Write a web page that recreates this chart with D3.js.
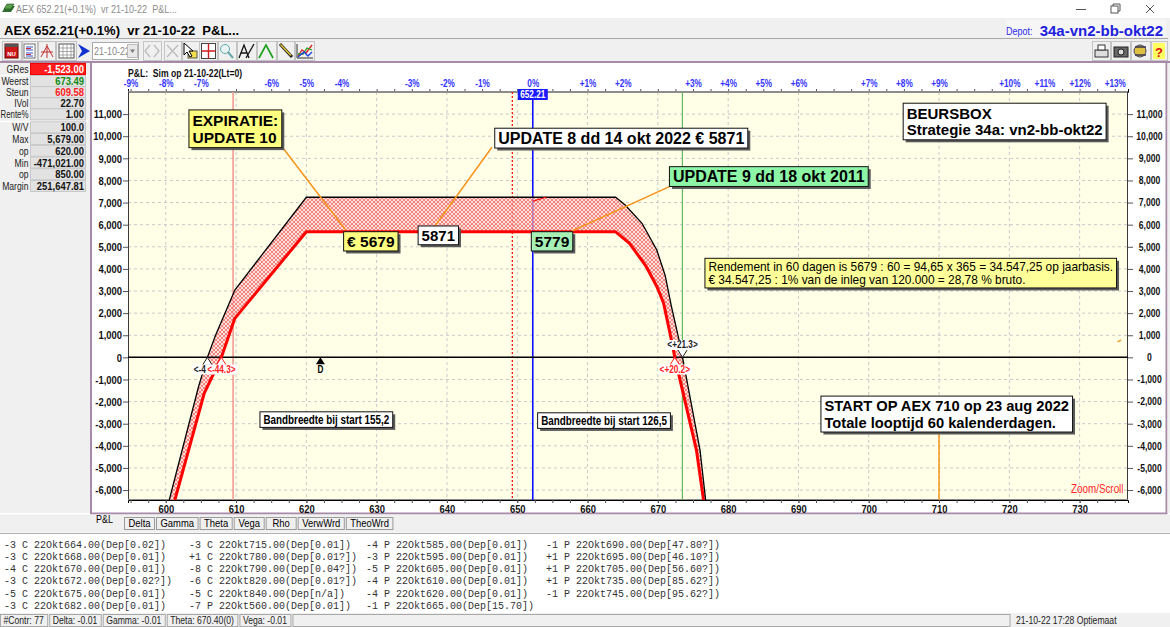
<!DOCTYPE html>
<html>
<head>
<meta charset="utf-8">
<title>AEX 652.21 P&amp;L</title>
<script src="https://cdn.jsdelivr.net/npm/d3@7/dist/d3.min.js"></script>
<style>
  html, body { margin: 0; padding: 0; background: #fff; overflow: hidden; }
  text { font-family: "Liberation Sans", Arial, sans-serif; white-space: pre; }
  text.nar { font-family: "Liberation Sans Narrow", "Arial Narrow", "Liberation Sans", sans-serif; }
  text.mono { font-family: "Liberation Mono", "Courier New", monospace; }
</style>
</head>
<body>
<div id="chart"></div>
<script>
// ---- values ----
const aex = 652.21;
const steun = 609.58;      // support, pink line
const weerst = 673.49;     // resistance, green line
const markLine = 649.3;    // red dotted line
const startLevel = 710;    // START OP AEX 710
const deltaMarkX = 622;    // "D" marker

// P&L today (black) and at expiration (red)
const todayX = [600.5, 604.66, 605.92, 607.1, 609.83, 620, 664, 665.35, 667.75, 669.85, 671.05, 671.9, 672.9, 673.51, 676.0, 676.8];
const todayY = [-6450, -1330, 0, 1009, 3045, 7240, 7240, 6891, 6063, 4855, 3700, 2350, 950, 0, -4195, -6450];
const expiryX = [601.3, 605.47, 607.91, 609.83, 620, 664, 665.97, 668.36, 669.87, 670.81, 672.13, 672.41, 675.49, 676.5];
const expiryY = [-6450, -1629, 0, 1765, 5679, 5679, 5158, 4100, 3195, 2457, 480, 0, -4195, -6450];

// break-even markers (the first label is mostly hidden behind the second one)
const beX = [605.92, 607.91, 673.51, 672.41];
const beText = ["<-4", "<-44.3>", "<+21.3>", "<+20.2>"];
const beSeries = ["today", "expiry", "today", "expiry"];

// axes
const xDomain = [594.63, 736.88];
const yDomain = [-6450, 12000];
const xTicks = [600, 610, 620, 630, 640, 650, 660, 670, 680, 690, 700, 710, 720, 730];
const yTicks = [-6000, -5000, -4000, -3000, -2000, -1000, 0, 1000, 2000, 3000, 4000, 5000, 6000, 7000, 8000, 9000, 10000, 11000];
const pctLabels = ["-9%", "-8%", "-7%", "-6%", "-5%", "-4%", "-3%", "-2%", "-1%", "0%", "+1%", "+2%", "+3%", "+4%", "+5%", "+6%", "+7%", "+8%", "+9%", "+10%", "+11%", "+12%", "+13%"];
const pctAt = [595, 600, 605, 615, 620, 625, 635, 640, 645, 652.21, 660, 665, 675, 680, 685, 690, 700, 705, 710, 720, 725, 730, 735];

// left info panel
const panelLabels = ["GRes", "Weerst", "Steun", "IVol", "Rente%", "W/V", "Max", "op", "Min", "op", "Margin"];
const panelValues = ["-1,523.00", "673.49", "609.58", "22.70", "1.00", "100.0", "5,679.00", "620.00", "-471,021.00", "850.00", "251,647.81"];

// annotations (anchor = top-left corner in chart units)
const noteLines = [
    ["EXPIRATIE:", "UPDATE 10"],
    ["€ 5679"],
    ["5871"],
    ["UPDATE 8 dd 14 okt 2022 € 5871"],
    ["UPDATE 9 dd 18 okt 2011"],
    ["5779"],
    ["BEURSBOX", "Strategie 34a: vn2-bb-okt22"],
    ["Rendement in 60 dagen is 5679 : 60 = 94,65 x 365 = 34.547,25 op jaarbasis.", "€ 34.547,25 : 1% van de inleg van 120.000 = 28,78 % bruto."],
    ["START OP AEX 710 op 23 aug 2022", "Totale looptijd 60 kalenderdagen."],
    ["Bandbreedte bij start 155,2"],
    ["Bandbreedte bij start 126,5"]
];
const noteX = [603.3, 625.3, 635.9, 646.8, 671.65, 652.0, 704.9, 676.7, 693.2, 613.4, 652.9];
const noteY = [11190, 5683, 5941, 10362, 8624, 5683, 11493, 4480, -1751, -2462, -2507];
// orange leader lines: [x1, y1, x2, y2]
const leaders = [
    [616.7, 9457, 625.6, 5760],
    [638.3, 5941, 646.4, 9502],
    [671.65, 7720, 657.8, 5715],
    [710, -3425, 710, -6450],
    [735.4, 700, 735.9, 780]
];

// option listing (4 columns) and tabs
const listCols = [
    ["-3 C 22Okt664.00(Dep[0.02])", "-3 C 22Okt668.00(Dep[0.01])", "-4 C 22Okt670.00(Dep[0.01])", "-3 C 22Okt672.00(Dep[0.02?])", "-5 C 22Okt675.00(Dep[0.01])", "-3 C 22Okt682.00(Dep[0.01])"],
    ["-3 C 22Okt715.00(Dep[0.01])", "+1 C 22Okt780.00(Dep[0.01?])", "-8 C 22Okt790.00(Dep[0.04?])", "-6 C 22Okt820.00(Dep[0.01?])", "-5 C 22Okt840.00(Dep[n/a])", "-7 P 22Okt560.00(Dep[0.01])"],
    ["-4 P 22Okt585.00(Dep[0.01])", "-3 P 22Okt595.00(Dep[0.01])", "-5 P 22Okt605.00(Dep[0.01])", "-4 P 22Okt610.00(Dep[0.01])", "-4 P 22Okt620.00(Dep[0.01])", "-1 P 22Okt665.00(Dep[15.70])"],
    ["-1 P 22Okt690.00(Dep[47.80?])", "+1 P 22Okt695.00(Dep[46.10?])", "+1 P 22Okt705.00(Dep[56.60?])", "+1 P 22Okt735.00(Dep[85.62?])", "-1 P 22Okt745.00(Dep[95.62?])"]
];
const tabNames = ["P&L", "Delta", "Gamma", "Theta", "Vega", "Rho", "VerwWrd", "TheoWrd"];
const statusItems = ["#Contr: 77", "Delta: -0.01", "Gamma: -0.01", "Theta: 670.40(0)", "Vega: -0.01"];
const titleText = "AEX 652.21(+0.1%)  vr 21-10-22  P&L...";

// ---- drawing ----
const W = 1170, H = 627;
const plot = { left: 128, right: 1128, top: 92, bottom: 500 };

const svg = d3.select("#chart").append("svg")
    .attr("width", W).attr("height", H)
    .attr("viewBox", [0, 0, W, H]);

const x = d3.scaleLinear().domain(xDomain).range([plot.left, plot.right]);
const y = d3.scaleLinear().domain(yDomain).range([plot.bottom, plot.top]);
const fmt = d3.formatLocale({ decimal: ".", thousands: ",", grouping: [3], currency: ["", ""], minus: "-" }).format(",");

// narrow font may be missing: squeeze regular glyphs instead
const narrowOK = (() => {
    const t = svg.append("text").attr("class", "nar").style("font-size", "100px").text("00000");
    const w = t.node().getComputedTextLength();
    t.remove();
    return w < 250;
})();
function squeeze(node) {
    const w = node.getComputedTextLength();
    if (narrowOK) { node.__w = w; return w; }
    node.setAttribute("textLength", (w * 0.82).toFixed(2));
    node.setAttribute("lengthAdjust", "spacingAndGlyphs");
    node.__w = w * 0.82;
    return node.__w;
}
const textW = node => node.__w || node.getComputedTextLength();

const defs = svg.append("defs");
defs.append("clipPath").attr("id", "plotClip").append("rect")
    .attr("x", plot.left).attr("y", plot.top)
    .attr("width", plot.right - plot.left).attr("height", plot.bottom - plot.top);
const pat = defs.append("pattern").attr("id", "hatch")
    .attr("patternUnits", "userSpaceOnUse").attr("width", 4).attr("height", 4);
pat.append("rect").attr("width", 4).attr("height", 4).attr("fill", "#ffcccc").attr("fill-opacity", 0.6);
pat.append("path").attr("d", "M0,0L4,4M4,0L0,4").attr("stroke", "#ec6666").attr("stroke-width", 0.75);

function label(g, px, py, s, size, opts = {}) {
    const t = g.append("text")
        .attr("x", px).attr("y", py)
        .attr("class", opts.cls || null)
        .attr("text-anchor", opts.anchor || "start")
        .attr("fill", opts.fill || "#000")
        .style("font-size", size + "px")
        .style("font-weight", opts.bold ? "bold" : "normal")
        .text(s);
    if (opts.cls === "nar") squeeze(t.node());
    return t;
}

// window chrome
const chrome = svg.append("g");
chrome.append("rect").attr("width", W).attr("height", 18).attr("fill", "#fff");
chrome.append("path").attr("d", "M2,12L6,6L15,6L11,12Z").attr("fill", "#2f6f2f");
chrome.append("path").attr("d", "M4,9L7,4L14,4L11,9Z").attr("fill", "#5aa04a").attr("stroke", "#1d4d1d").attr("stroke-width", 0.6);
label(chrome, 16, 12.5, titleText, 11, { cls: "nar", fill: "#8c8c8c" });
chrome.append("path").attr("d", "M1076,9.5H1086").attr("stroke", "#555");
chrome.append("rect").attr("x", 1111).attr("y", 6).attr("width", 7).attr("height", 7).attr("fill", "none").attr("stroke", "#555");
chrome.append("path").attr("d", "M1113,6V4H1120V11H1118").attr("fill", "none").attr("stroke", "#555");
chrome.append("path").attr("d", "M1146,5L1154,13M1154,5L1146,13").attr("stroke", "#555");

chrome.append("rect").attr("y", 18).attr("width", W).attr("height", 45).attr("fill", "#f0f0f0");
label(chrome, 4, 35, titleText, 13, { bold: true });
chrome.append("rect").attr("x", 1006).attr("y", 20).attr("width", 160).attr("height", 17).attr("fill", "#f6f6f6");
label(chrome, 1006, 35, "Depot:", 11, { cls: "nar", fill: "#2a2ae8" });
label(chrome, 1163, 35.5, "34a-vn2-bb-okt22", 15, { anchor: "end", bold: true, fill: "#2020dd" });
chrome.append("path").attr("d", "M0,38.5H1168").attr("stroke", "#a8a8a8");
chrome.append("path").attr("d", "M0,62H1170").attr("stroke", "#a68aa8").attr("stroke-width", 2);

// toolbar icons
const tb = chrome.append("g");
function btn(x0, w) {
    tb.append("rect").attr("x", x0 + 0.5).attr("y", 41.5).attr("width", w).attr("height", 19)
        .attr("fill", "#f0f0f0").attr("stroke", "#c4c4c4");
}
[[2, 19], [22, 15], [38, 17], [56, 20], [143, 18], [164, 17], [182, 17], [199, 18], [218, 18], [237, 19], [257, 19], [277, 17], [295, 19]].forEach(d => btn(d[0], d[1]));
tb.append("rect").attr("x", 5).attr("y", 44).attr("width", 13).attr("height", 14).attr("fill", "#d01818").attr("stroke", "#600");
tb.append("rect").attr("x", 5).attr("y", 44).attr("width", 13).attr("height", 3).attr("fill", "#555");
label(tb, 11.5, 56, "NU", 6, { anchor: "middle", bold: true, fill: "#fff" });
tb.append("rect").attr("x", 24).attr("y", 44).attr("width", 11).attr("height", 14).attr("fill", "#fff").attr("stroke", "#777");
tb.append("path").attr("d", "M26,47H33M26,50H33M26,53H33M26,56H33").attr("stroke", "#3050d0");
tb.append("path").attr("d", "M26,48.5H31M26,54.5H31").attr("stroke", "#d03030");
tb.append("path").attr("d", "M41,57L47,46L53,57M41,52H53M47,44V58").attr("fill", "none").attr("stroke", "#c03030");
tb.append("rect").attr("x", 59).attr("y", 44).attr("width", 15).attr("height", 14).attr("fill", "#fff").attr("stroke", "#555");
tb.append("path").attr("d", "M59,48H74M59,51.5H74M59,55H74M63,44V58M67,44V58M71,44V58").attr("stroke", "#888").attr("stroke-width", 0.7);
tb.append("path").attr("d", "M78,44L90,51L78,58L82,51Z").attr("fill", "#1030d0");
tb.append("rect").attr("x", 92.5).attr("y", 42.5).attr("width", 46).attr("height", 17).attr("fill", "#fff").attr("stroke", "#aaa");
label(tb, 94, 55, "21-10-22", 11, { cls: "nar", fill: "#888" });
tb.append("rect").attr("x", 127.5).attr("y", 44.5).attr("width", 10).attr("height", 13).attr("fill", "#e8e8e8").attr("stroke", "#bbb");
tb.append("path").attr("d", "M130,49.5H135L132.5,53Z").attr("fill", "#777");
tb.append("path").attr("d", "M150,45L145,51L150,57M154,45L159,51L154,57").attr("fill", "none").attr("stroke", "#bbb").attr("stroke-width", 1.3);
tb.append("path").attr("d", "M167,45L178,57M178,45L167,57").attr("stroke", "#bbb").attr("stroke-width", 1.3);
tb.append("rect").attr("x", 188).attr("y", 51).attr("width", 9).attr("height", 7).attr("fill", "#f4e04a").attr("stroke", "#555");
tb.append("path").attr("d", "M184,43V55L187,52L190,57L192,56L189,51H193Z").attr("fill", "#fff").attr("stroke", "#000");
tb.append("rect").attr("x", 201.5).attr("y", 43.5).attr("width", 14).attr("height", 15).attr("fill", "#fff").attr("stroke", "#444");
tb.append("path").attr("d", "M201.5,51H215.5M208.5,43.5V58.5").attr("stroke", "#d02020").attr("stroke-width", 1.4);
tb.append("circle").attr("cx", 225).attr("cy", 49).attr("r", 4.5).attr("fill", "#e8f4f4").attr("stroke", "#6aa");
tb.append("path").attr("d", "M228,52L233,58").attr("stroke", "#6aa").attr("stroke-width", 2);
tb.append("path").attr("d", "M239,58L244,45L249,58M241,53H247M246,58L254,44").attr("fill", "none").attr("stroke", "#111").attr("stroke-width", 1.3);
tb.append("path").attr("d", "M259,58L266,45L273,58").attr("fill", "none").attr("stroke", "#1aa01a").attr("stroke-width", 1.6);
tb.append("path").attr("d", "M280,44L292,57").attr("stroke", "#222").attr("stroke-width", 3);
tb.append("path").attr("d", "M280.5,44.5L291,55.5").attr("stroke", "#e8c830").attr("stroke-width", 1.4);
tb.append("path").attr("d", "M297,58V44M297,58H313").attr("stroke", "#333");
tb.append("path").attr("d", "M298,56L302,50L306,53L312,45").attr("fill", "none").attr("stroke", "#e02020").attr("stroke-width", 1.3);
tb.append("path").attr("d", "M298,54L303,54L307,48L312,50").attr("fill", "none").attr("stroke", "#20a020").attr("stroke-width", 1.3);
tb.append("path").attr("d", "M298,57L304,52L308,56L312,52").attr("fill", "none").attr("stroke", "#2040e0").attr("stroke-width", 1.3);
// right toolbar icons
[[1092, 18], [1111, 19], [1131, 19], [1151, 16]].forEach(d => btn(d[0], d[1]));
tb.append("rect").attr("x", 1095).attr("y", 50).attr("width", 13).attr("height", 7).attr("fill", "#ddd").attr("stroke", "#333");
tb.append("rect").attr("x", 1098).attr("y", 45).attr("width", 7).attr("height", 5).attr("fill", "#fff").attr("stroke", "#333");
tb.append("rect").attr("x", 1114).attr("y", 47).attr("width", 14).attr("height", 10).attr("fill", "#666").attr("stroke", "#222");
tb.append("circle").attr("cx", 1121).attr("cy", 52).attr("r", 3).attr("fill", "#ddd").attr("stroke", "#222");
tb.append("circle").attr("cx", 1140).attr("cy", 51).attr("r", 6).attr("fill", "#e0c040").attr("stroke", "#446");
tb.append("path").attr("d", "M1135,47H1146M1135,55H1146").attr("stroke", "#335").attr("stroke-width", 1.5);
tb.append("rect").attr("x", 1153).attr("y", 43).attr("width", 12).attr("height", 16).attr("fill", "#ffff60");
label(tb, 1159, 56.5, "?", 13, { anchor: "middle", bold: true, fill: "#e01010" });

// left info panel
const panel = svg.append("g");
panel.append("rect").attr("x", 0).attr("y", 63).attr("width", 91).attr("height", 450).attr("fill", "#f0f0f0");
const rowY = i => i === 0 ? 69 : (i < 5 ? 81 + (i - 1) * 11.1 : 127.3 + (i - 5) * 11.74);
panel.append("path").attr("d", "M0,75.5H88M0,121.5H88").attr("stroke", "#fff").attr("stroke-width", 1.5);
panelLabels.forEach((lab, i) => {
    const cy = rowY(i);
    const hot = i === 0;
    panel.append("rect").attr("x", 30.5).attr("y", cy - 5.5).attr("width", 55).attr("height", 11)
        .attr("fill", hot ? "#ff1c1c" : "#e2e2e2").attr("stroke", hot ? "#e00" : "#c8c8c8");
    const t = label(panel, 28.5, cy + 4, lab, 10.5, { cls: "nar", anchor: "end", fill: "#222" });
    if (textW(t.node()) > 28) {  // keep the widest label inside the panel
        t.attr("textLength", 28).attr("lengthAdjust", "spacingAndGlyphs");
    }
    label(panel, 84, cy + 4, panelValues[i], 11.5, {
        cls: "nar", anchor: "end", bold: true,
        fill: hot ? "#fff" : (lab === "Weerst" ? "#108a10" : (lab === "Steun" ? "#ff2020" : "#111"))
    });
});

// chart panel
svg.append("rect").attr("x", 92).attr("y", 63).attr("width", 1074).attr("height", 450).attr("fill", "#fff");
svg.append("path").attr("d", "M91,63V513.5H1166.5V63").attr("fill", "none").attr("stroke", "#a68aa8").attr("stroke-width", 2);
svg.append("rect").attr("x", 1167.5).attr("y", 63).attr("width", 3).attr("height", 450).attr("fill", "#f0f0f0");

svg.append("rect").attr("x", plot.left).attr("y", plot.top)
    .attr("width", plot.right - plot.left).attr("height", plot.bottom - plot.top)
    .attr("fill", "#ffffe8");

// grid
const grid = svg.append("g").attr("stroke", "#c8c8c8").attr("stroke-dasharray", "3,3");
grid.selectAll(".gx").data(xTicks).join("line")
    .attr("x1", d => x(d)).attr("x2", d => x(d)).attr("y1", plot.top).attr("y2", plot.bottom);
grid.selectAll(".gy").data(yTicks).join("line")
    .attr("x1", plot.left).attr("x2", plot.right).attr("y1", d => y(d)).attr("y2", d => y(d));

// axes
const minor = d3.range(595, 737, 2.5);
const axL = svg.append("g").attr("transform", `translate(${plot.left},0)`)
    .call(d3.axisLeft(y).tickValues(yTicks).tickFormat(fmt).tickSize(5).tickPadding(1));
const axR = svg.append("g").attr("transform", `translate(${plot.right},0)`)
    .call(d3.axisRight(y).tickValues(yTicks).tickFormat(fmt).tickSize(5).tickPadding(1));
const axB = svg.append("g").attr("transform", `translate(0,${plot.bottom})`)
    .call(d3.axisBottom(x).tickValues(xTicks).tickFormat(d3.format("d")).tickSize(3).tickPadding(2));
svg.append("g").attr("transform", `translate(0,${plot.bottom})`)
    .call(d3.axisBottom(x).tickValues(minor).tickFormat("").tickSize(3));
svg.append("g").attr("transform", `translate(0,${plot.top})`)
    .call(d3.axisTop(x).tickValues(minor).tickFormat("").tickSize(3));
const axT = svg.append("g").attr("transform", `translate(0,${plot.top})`)
    .call(d3.axisTop(x).tickValues(pctAt).tickFormat((d, i) => pctLabels[i]).tickSize(0).tickPadding(5));
[axL, axR, axB, axT].forEach(a => {
    a.select(".domain").remove();
    a.selectAll("text").attr("class", "nar").style("font-size", "11.5px").style("font-weight", "bold").attr("fill", "#111");
});
axR.selectAll("text").attr("x", 21.5).attr("text-anchor", "middle").style("font-size", "10.5px");
axT.selectAll("text").style("font-size", "10px").attr("fill", "#3434ff");
svg.selectAll(".tick text").each(function () { squeeze(this); });
svg.selectAll(".tick line").attr("stroke", "#555");
label(svg, 128, 77, "P&L:  Sim op 21-10-22(Lt=0)", 10.5, { cls: "nar", bold: true, fill: "#111" });

// plot frame
svg.append("path").attr("d", `M${plot.left},${plot.top}H${plot.right}`).attr("stroke", "#8c8c8c").attr("stroke-width", 2);
svg.append("path").attr("d", `M${plot.left + 0.5},${plot.top}V${plot.bottom}M${plot.right - 0.5},${plot.top}V${plot.bottom}`).attr("stroke", "#3a3a3a");
svg.append("path").attr("d", `M${plot.left},${plot.bottom - 0.5}H${plot.right}`).attr("stroke", "#8c8c8c");

const area = svg.append("g").attr("clip-path", "url(#plotClip)");

// vertical reference lines
const vline = (v, color, w, dash) => area.append("line")
    .attr("x1", x(v)).attr("x2", x(v)).attr("y1", plot.top).attr("y2", plot.bottom)
    .attr("stroke", color).attr("stroke-width", w).attr("stroke-dasharray", dash || null);
vline(steun, "#f39a95", 1.6);
vline(markLine, "#ff1010", 1.3, "2,2");
vline(aex, "#1010ff", 1.6);
vline(weerst, "#60b860", 1.2);

// hatched band between today and expiration
const today = todayX.map((v, i) => [v, todayY[i]]);
const expiry = expiryX.map((v, i) => [v, expiryY[i]]);
const lineGen = d3.line().x(d => x(d[0])).y(d => y(d[1]));
area.append("path")
    .attr("d", lineGen(today.concat(expiry.slice().reverse())) + "Z")
    .attr("fill", "url(#hatch)");

// zero line
area.append("line").attr("x1", plot.left).attr("x2", plot.right).attr("y1", y(0)).attr("y2", y(0))
    .attr("stroke", "#000").attr("stroke-width", 1.5);

area.append("path").attr("d", lineGen(expiry)).attr("fill", "none").attr("stroke", "#ff0000").attr("stroke-width", 3).attr("stroke-linejoin", "round");
area.append("path").attr("d", lineGen(today)).attr("fill", "none").attr("stroke", "#000").attr("stroke-width", 1.3);
// little cursor tick on the today line
area.append("path").attr("d", lineGen([[aex, 7060], [654.1, 7240]])).attr("stroke", "#ff0000").attr("stroke-width", 1.2);

// leaders
area.selectAll(".lead").data(leaders).join("line")
    .attr("x1", d => x(d[0])).attr("y1", d => y(d[1])).attr("x2", d => x(d[2])).attr("y2", d => y(d[3]))
    .attr("stroke", "#f7941d").attr("stroke-width", 1.5);

// current index tag
const tag = svg.append("g");
tag.append("rect").attr("x", x(aex) - 15).attr("y", 89).attr("width", 30).attr("height", 11).attr("fill", "#1a1aff");
label(tag, x(aex), 98, "652.21", 10, { cls: "nar", anchor: "middle", bold: true, fill: "#fff" });

// break-even and D markers
const mk = svg.append("g");
const y0 = y(0);
mk.append("path").attr("d", `M${x(deltaMarkX)},${y0}l4.5,7h-9Z`).attr("fill", "#000");
label(mk, x(deltaMarkX), 373, "D", 10, { cls: "nar", anchor: "middle", bold: true });
const beLeft = [];
beX.forEach((v, i) => {
    const red = beSeries[i] === "expiry";
    const above = !red && v > aex;
    const col = red ? "#ff2020" : "#222";
    const px = x(v);
    mk.append("path")
        .attr("d", above ? `M${px},${y0}l5,-8h-10Z` : `M${px},${y0}l5,8h-10Z`)
        .attr("fill", "#fff").attr("stroke", col).attr("stroke-width", 1);
});
// labels: draw the red left one first so the black one can end where it starts
[1, 0, 2, 3].forEach(i => {
    const red = beSeries[i] === "expiry";
    const above = !red && beX[i] > aex;
    const col = red ? "#ff2020" : "#222";
    const ty = above ? 348 : 372.5;
    let px = x(beX[i]), anchor = "middle";
    if (i === 0) { px = beLeft[0]; anchor = "end"; }
    const t = label(mk, px, ty, beText[i], 10, { cls: "nar", anchor, bold: true, fill: col });
    const tw = textW(t.node());
    const left = anchor === "end" ? px - tw : px - tw / 2;
    if (i === 1) beLeft[0] = left - 1.5;
    mk.insert("rect", () => t.node()).attr("x", left - 1.5).attr("y", ty - 8).attr("width", tw + 3).attr("height", 10)
        .attr("fill", "#fff").attr("rx", 2);
});

// annotation boxes
const noteStyle = [
    { fill: "#ffff80", size: 15.5, bold: true },
    { fill: "#ffff80", size: 15.5, bold: true },
    { fill: "#ffffff", size: 15, bold: true },
    { fill: "#ffffff", size: 16, bold: true },
    { fill: "#8cf5a6", size: 16, bold: true },
    { fill: "#a6f0b6", size: 15.5, bold: true },
    { fill: "#ffffff", size: 15, bold: true },
    { fill: "#ffff99", size: 11.9, bold: false },
    { fill: "#ffffff", size: 14.7, bold: true },
    { fill: "#ffffff", size: 12, bold: true, nar: true },
    { fill: "#ffffff", size: 12, bold: true, nar: true }
];
const notes = svg.append("g");
noteLines.forEach((lines, i) => {
    const st = noteStyle[i];
    const g = notes.append("g");
    const lh = st.size * (lines.length > 1 ? 1.12 : 1.05);
    const padX = 3.5, padY = 1.5;
    const bx = x(noteX[i]), by = y(noteY[i]);
    const ts = lines.map((s, k) => label(g, bx + padX, by + padY + k * lh + lh / 2 + st.size * 0.36, s, st.size,
        { bold: st.bold, cls: st.nar ? "nar" : null }));
    const w = d3.max(ts, t => textW(t.node())) + 2 * padX;
    const h = lines.length * lh + 2 * padY;
    g.insert("rect", "text").attr("x", bx).attr("y", by).attr("width", w).attr("height", h)
        .attr("fill", st.fill).attr("stroke", "#111").attr("stroke-width", 1);
    g.insert("rect", "rect").attr("x", bx + 2.5).attr("y", by + 2.5).attr("width", w).attr("height", h)
        .attr("fill", "#5a5a5a");
});

label(svg, 1123.5, 493, "Zoom/Scroll", 12, { cls: "nar", anchor: "end", fill: "#ff2a2a" });

// tabs
const tabs = svg.append("g");
tabs.append("rect").attr("x", 0).attr("y", 514.5).attr("width", W).attr("height", 18).attr("fill", "#f0f0f0");
label(tabs, 96, 523, tabNames[0], 11, { cls: "nar" });
let tx = 124.5;
tabNames.slice(1).forEach(name => {
    const t = label(tabs, 0, 527, name, 11.5, { cls: "nar", anchor: "middle" });
    const w = Math.max(30, textW(t.node()) + 8);
    t.attr("x", tx + w / 2);
    tabs.insert("rect", () => t.node()).attr("x", tx).attr("y", 517.5).attr("width", w).attr("height", 12)
        .attr("fill", "#f0f0f0").attr("stroke", "#9a9a9a");
    tx += w + 2;
});

// option listing
const list = svg.append("g");
list.append("rect").attr("x", 0).attr("y", 533).attr("width", W).attr("height", 80).attr("fill", "#fff");
list.append("path").attr("d", "M0,533.5H1170").attr("stroke", "#b0b0b0");
const colX = [4, 189, 366, 546];
listCols.forEach((col, c) => col.forEach((s, r) => {
    label(list, colX[c], 547.5 + r * 12.3, s, 10, { cls: "mono", fill: "#333" });
}));

// status bar
const sb = svg.append("g");
sb.append("rect").attr("x", 0).attr("y", 613).attr("width", W).attr("height", 14).attr("fill", "#f0f0f0");
let sx = 0.5;
statusItems.forEach(s => {
    const t = label(sb, sx + 3, 624, s, 10.5, { cls: "nar", fill: "#222" });
    const w = textW(t.node()) + 7;
    sb.insert("rect", () => t.node()).attr("x", sx).attr("y", 614.5).attr("width", w).attr("height", 12)
        .attr("fill", "none").attr("stroke", "#a8a8a8");
    sx += w + 2;
});
sb.append("rect").attr("x", sx).attr("y", 614.5).attr("width", 1010 - sx).attr("height", 12).attr("fill", "none").attr("stroke", "#a8a8a8");
label(sb, 1016, 624, "21-10-22 17:28 Optiemaat", 10.5, { cls: "nar", fill: "#222" });
</script>
</body>
</html>
